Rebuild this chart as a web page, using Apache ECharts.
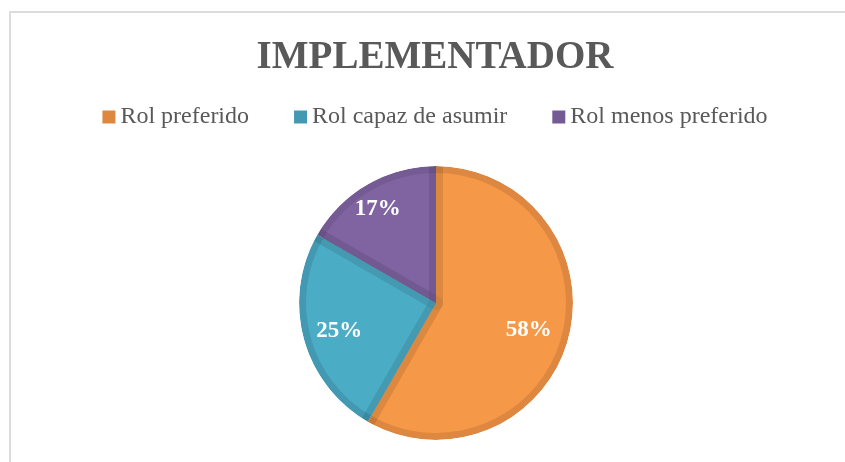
<!DOCTYPE html>
<html>
<head>
<meta charset="utf-8">
<script src="https://cdn.jsdelivr.net/npm/echarts@6/dist/echarts.min.js"></script>
<style>
  html, body { margin: 0; padding: 0; background: #fff; overflow: hidden; }
  #chart { width: 870px; height: 462px; }
</style>
</head>
<body>
<div id="chart"></div>
<script>
const titleText = "IMPLEMENTADOR";
const categories = ["Rol preferido", "Rol capaz de asumir", "Rol menos preferido"];
const shares = [58.3, 25.0, 16.7];

// colores estilo Excel: relleno claro y borde interior mas oscuro
const lightColors = ["#F59847", "#4BACC6", "#8064A2"];
const darkColors = ["#DE8741", "#4399B2", "#745B93"];
// desplazamiento de las etiquetas respecto a la posicion "inside"
const labelShift = [[15, 6], [-19, 7], [-18, -24]];

const serif = "Liberation Serif, Times New Roman, serif";
const center = [436, 303];

function pieData(colors) {
  return categories.map((name, i) => ({ name: name, value: shares[i], itemStyle: { color: colors[i] } }));
}

let chart = echarts.init(document.getElementById("chart"));
chart.setOption({
  animation: false,
  title: {
    text: titleText,
    left: "center",
    top: 33,
    textStyle: { fontFamily: serif, fontWeight: "bold", fontSize: 39, color: "#595959" }
  },
  legend: {
    data: categories,
    left: "center",
    top: 100,
    icon: "rect",
    itemWidth: 13,
    itemHeight: 13,
    itemGap: 45,
    selectedMode: false,
    textStyle: { fontFamily: serif, fontSize: 24, color: "#595959" }
  },
  graphic: [{
    type: "rect",
    silent: true,
    shape: { x: 10, y: 12, width: 1200, height: 1000 },
    style: { fill: "none", stroke: "#dcdcdc", lineWidth: 2 }
  }],
  series: [
    // borde oscuro exterior
    {
      type: "pie", center: center, radius: 137, startAngle: 90, silent: true,
      data: pieData(darkColors),
      label: { show: false }, labelLine: { show: false },
      z: 1
    },
    // relleno claro
    {
      type: "pie", center: center, radius: 130, startAngle: 90, silent: true,
      data: pieData(lightColors),
      label: { show: false }, labelLine: { show: false },
      z: 2
    },
    // bandas oscuras a lo largo de los radios (trazo semitransparente) + etiquetas
    {
      type: "pie", center: center, radius: 155, startAngle: 90, silent: true,
      data: pieData(categories.map(() => "rgba(0,0,0,0)")),
      itemStyle: { borderWidth: 14, borderColor: "rgba(0,0,0,0.052)", borderJoin: "round" },
      label: {
        show: true,
        position: "inside",
        formatter: p => Math.round(p.percent) + "%",
        fontFamily: serif,
        fontWeight: "bold",
        fontSize: 23,
        color: "#fff"
      },
      labelLine: { show: false },
      labelLayout: p => ({ dx: labelShift[p.dataIndex][0], dy: labelShift[p.dataIndex][1] }),
      z: 3
    },
    // mascara blanca fuera del circulo
    {
      type: "pie", center: center, radius: [137, 170], silent: true,
      data: [{ name: "", value: 1, itemStyle: { color: "#fff" } }],
      label: { show: false }, labelLine: { show: false },
      z: 4
    }
  ]
});
</script>
</body>
</html>
